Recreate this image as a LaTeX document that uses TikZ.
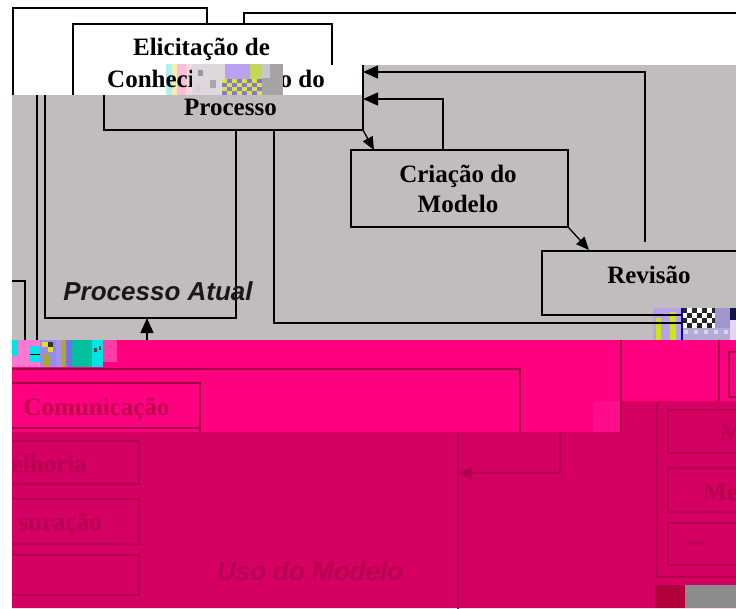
\documentclass[tikz,border=0pt]{standalone}
\usepackage{fontspec}
\setmainfont{Liberation Serif}
\setsansfont{Liberation Sans}
\usetikzlibrary{arrows.meta}
\definecolor{bggray}{RGB}{193,189,191}
\definecolor{magA}{RGB}{255,0,128}
\definecolor{magB}{RGB}{212,0,98}
\definecolor{magC}{RGB}{255,12,140}
\definecolor{maglineA}{RGB}{160,0,68}
\definecolor{maglineB}{RGB}{178,0,78}
\definecolor{magtxtA}{RGB}{190,0,76}
\definecolor{magtxtB}{RGB}{182,0,80}
\definecolor{lav}{RGB}{185,160,240}
\definecolor{ygreen}{RGB}{200,232,20}
\definecolor{teal}{RGB}{0,192,160}
\definecolor{cyanG}{RGB}{0,228,228}
\definecolor{pinkG}{RGB}{255,120,210}
\definecolor{pcyan}{RGB}{175,240,240}
\definecolor{pyel}{RGB}{240,240,180}
\definecolor{ppink}{RGB}{250,190,215}
\definecolor{ppink2}{RGB}{245,215,228}
\definecolor{noiseA}{RGB}{220,216,220}
\definecolor{noiseB}{RGB}{150,150,155}
\definecolor{noiseC}{RGB}{170,165,175}
\definecolor{noiseD}{RGB}{235,200,215}
\definecolor{olivG}{RGB}{195,215,90}
\definecolor{blueG}{RGB}{130,120,215}
\definecolor{yelG}{RGB}{225,225,60}
\definecolor{grayG}{RGB}{166,162,166}
\definecolor{grayH}{RGB}{200,198,200}
\definecolor{lavG}{RGB}{160,150,205}
\definecolor{navyG}{RGB}{20,20,70}
\definecolor{lavL}{RGB}{225,215,245}
\definecolor{lavM}{RGB}{178,172,212}
\definecolor{lavN}{RGB}{215,210,235}
\definecolor{blueLine}{RGB}{10,10,150}
\definecolor{lavB}{RGB}{150,140,235}
\definecolor{yelB}{RGB}{230,220,40}
\definecolor{olivB}{RGB}{170,170,40}
\definecolor{lavC}{RGB}{165,145,240}
\definecolor{blueC}{RGB}{120,110,230}
\definecolor{pinkH}{RGB}{255,60,165}
\definecolor{redBlk}{RGB}{178,0,60}
\definecolor{grayBlk}{RGB}{140,140,140}
\begin{document}
\begin{tikzpicture}[x=1pt,y=-1pt,
  ln/.style={line width=1.3pt, black},
  mlnA/.style={line width=1.1pt, maglineA},
  mlnB/.style={line width=1.1pt, maglineB},
  arr/.style={ln,-{Triangle[length=15pt,width=13pt]}},
  sarr/.style={ln,-{Triangle[length=13pt,width=11pt]}},
  marr/.style={mlnB,-{Triangle[length=14pt,width=12pt]}},
  serif/.style={font=\fontsize{25}{28}\selectfont\bfseries, inner sep=0pt, anchor=base},
  sansbi/.style={font=\fontsize{26}{29}\selectfont\sffamily\bfseries\itshape, inner sep=0pt, anchor=base},
  box/.style={draw, line width=1.3pt, inner sep=0pt}]
\useasboundingbox (0,0) rectangle (736,608);
\fill[white] (0,0) rectangle (736,608);
% ---- background bands
\fill[bggray] (362,65) -- (736,65) -- (736,340) -- (12,340) -- (12,95) -- (362,95) -- cycle;
\fill[magA] (12,340) -- (736,340) -- (736,401) -- (621,401) -- (621,432) -- (12,432) -- cycle;
\fill[magB] (12,432) -- (621,432) -- (621,401) -- (736,401) -- (736,608) -- (12,608) -- cycle;
\fill[magC] (593,401) rectangle (621,432);
% ---- white region frames
\draw[ln] (13,95) -- (13,8) -- (207,8) -- (207,24);
\draw[ln] (244,24) -- (244,13) -- (740,13);
\draw[ln] (73,95) -- (73,24) -- (332,24) -- (332,65);
\node[serif] (t1) at (201.5,55) {Elicitação de};
% pastel stripes under text
\fill[pcyan] (166,64) rectangle (172,95);
\fill[pyel] (172,64) rectangle (177,95);
\fill[ppink] (177,64) rectangle (186,95);
\fill[ppink2] (186,64) rectangle (192,95);
\node[serif, anchor=base west] (t2a) at (107,87) {Conheci};
\node[serif, anchor=base east] (t2b) at (325,87) {o do};
% glitch over Elicitação text
\fill[noiseA] (192,64) rectangle (225,95);
\fill[noiseB] (198,70) rectangle (203,76);
\fill[noiseC] (210,80) rectangle (216,88);
\fill[noiseD] (195,84) rectangle (200,92);
\fill[lav] (225,64) rectangle (250,79);
\fill[olivG] (250,64) rectangle (262,79);
\fill[blueG] (222,79) rectangle (262,95);
\foreach \i in {0,2,4,6} \foreach \j in {0,2}
  \fill[yelG] ({222+\i*5},{79+\j*4}) rectangle ++(5,4);
\foreach \i in {1,3,5,7} \foreach \j in {1,3}
  \fill[yelG] ({222+\i*5},{79+\j*4}) rectangle ++(5,4);
\fill[grayG] (262,64) rectangle (283,95);
\fill[grayH] (262,64) rectangle (270,78);
% ---- top-right glitch (under lines)
\fill[lav] (653,308) rectangle (682,340);
\fill[ygreen] (656,318) rectangle (661,340);
\fill[ygreen] (670,312) rectangle (676,340);
% ---- gray region lines
\draw[ln] (37,95) -- (37,340);
\draw[ln] (45,95) -- (45,318) -- (236,318) -- (236,131);
\draw[ln] (12,281) -- (25,281) -- (25,340);
\draw[ln] (104,95) -- (104,130) -- (363,130) -- (363,65);
\draw[ln] (274,131) -- (274,323) -- (682,323);
\node[box, minimum width=217pt, minimum height=77pt] (cri) at (459.5,188.5) {};
\node[box, minimum width=230pt, minimum height=64pt] (rev) at (657,283) {};
\node[serif] (tc1) at (458,182) {Criação do};
\node[serif] (tc2) at (458,212) {Modelo};
\node[serif] (tr) at (649,283) {Revisão};
\node[serif] (tp) at (230.5,115) {Processo};
\node[sansbi, text=black!90] (tpa) at (158,300) {Processo Atual};
% connectors
\coordinate (elR1) at (363,72);
\coordinate (elR2) at (363,99);
\coordinate (elBR) at (363,130);
\coordinate (revA) at (645,242);
\coordinate (criA) at (443,150);
\coordinate (criB) at (374,150);
\coordinate (revB) at (589,250);
\coordinate (paS) at (147,340);
\coordinate (paB) at (147,318);
\draw[arr] (revA) |- (elR1);
\draw[arr] (criA) |- (elR2);
\draw[sarr] (elBR) -- (criB);
\draw[sarr] (cri.south east) -- (revB);
\draw[arr] (paS) -- (paB);
% ---- top-right glitch (over lines)
\fill[white] (682,308) rectangle (715,328);
\foreach \i in {0,2,4,6} \foreach \j in {0,2}
  \fill[black!85] ({682+\i*5},{308+\j*5}) rectangle ++(5,5);
\foreach \i in {1,3,5} \foreach \j in {1,3}
  \fill[black!85] ({682+\i*5},{308+\j*5}) rectangle ++(5,5);
\fill[lavG] (715,308) rectangle (730,328);
\fill[navyG] (730,308) rectangle (736,320);
\fill[lavL] (730,320) rectangle (736,340);
\fill[lavM] (682,328) rectangle (730,340);
\foreach \i in {0,2,4,6,8}
  \fill[lavN] ({684+\i*5},330) rectangle ++(4,4);
\draw[line width=1.5pt, blueLine] (682,308) -- (682,340);
% ---- bottom-left glitch
\fill[pinkG] (12,340) rectangle (40,367);
\fill[cyanG] (12,340) rectangle (18,356);
\fill[cyanG] (30,346) rectangle (40,362);
\draw[line width=1pt, black] (30,354) -- (40,354);
\fill[lavB] (40,340) rectangle (56,367);
\fill[yelB] (42,342) rectangle (48,347);
\fill[black!80] (48,342) rectangle (53,347);
\fill[yelB] (48,347) rectangle (53,352);
\fill[olivB] (44,354) rectangle (50,367);
\fill[lavC] (56,340) rectangle (62,367);
\fill[olivB] (62,340) rectangle (66,367);
\fill[blueC] (66,340) rectangle (72,367);
\fill[teal] (72,340) rectangle (92,367);
\fill[cyanG] (92,340) rectangle (103,367);
\fill[black!70] (94,348) rectangle (97,352);
\fill[black!70] (99,346) rectangle (101,350);
\fill[pinkH] (103,340) rectangle (117,362);
% ---- magenta region lines
\draw[mlnA] (12,369) -- (520,369) -- (520,432);
\draw[mlnA] (12,383) -- (200,383) -- (200,432);
\draw[mlnA] (12,428) -- (200,428);
\draw[mlnA] (621,340) -- (621,432);
\draw[mlnA] (719,340) -- (719,401);
\draw[mlnA] (740,352) -- (729,352) -- (729,397) -- (740,397);
\node[serif, text=magtxtA] (tcom) at (96.5,415) {Comunicação};
% ---- dark region
\draw[mlnB] (458,432) -- (458,610);
\coordinate (dkS) at (560,432);
\coordinate (dkT) at (458,473);
\draw[marr] (dkS) |- (dkT);
\draw[mlnB] (12,441) -- (139,441) -- (139,484) -- (12,484);
\draw[mlnB] (12,499) -- (139,499) -- (139,544) -- (12,544);
\draw[mlnB] (12,555) -- (139,555) -- (139,595) -- (12,595);
\draw[mlnB] (740,577) -- (657,577) -- (657,402);
\draw[mlnB] (740,410) -- (668,410) -- (668,453) -- (740,453);
\draw[mlnB] (740,468) -- (668,468) -- (668,512) -- (740,512);
\draw[mlnB] (740,523) -- (668,523) -- (668,565) -- (740,565);
\node[serif, text=magtxtB, anchor=base east] (tmel) at (87,472) {elhoria};
\node[serif, text=magtxtB, anchor=base east] (tmen) at (102,530) {suração};
\node[sansbi, text=magtxtB] (tuso) at (310,580) {Uso do Modelo};
\node[serif, text=magtxtB, anchor=base west] (tm1) at (720,440) {M};
\node[serif, text=magtxtB, anchor=base west] (tm2) at (703,500) {Me};
\node[serif, text=magtxtB, anchor=base west] (tm3) at (687,545) {...};
% bottom-right blocks
\fill[redBlk] (655,585) rectangle (685,608);
\fill[grayBlk] (685,585) rectangle (736,608);
\end{tikzpicture}
\end{document}
